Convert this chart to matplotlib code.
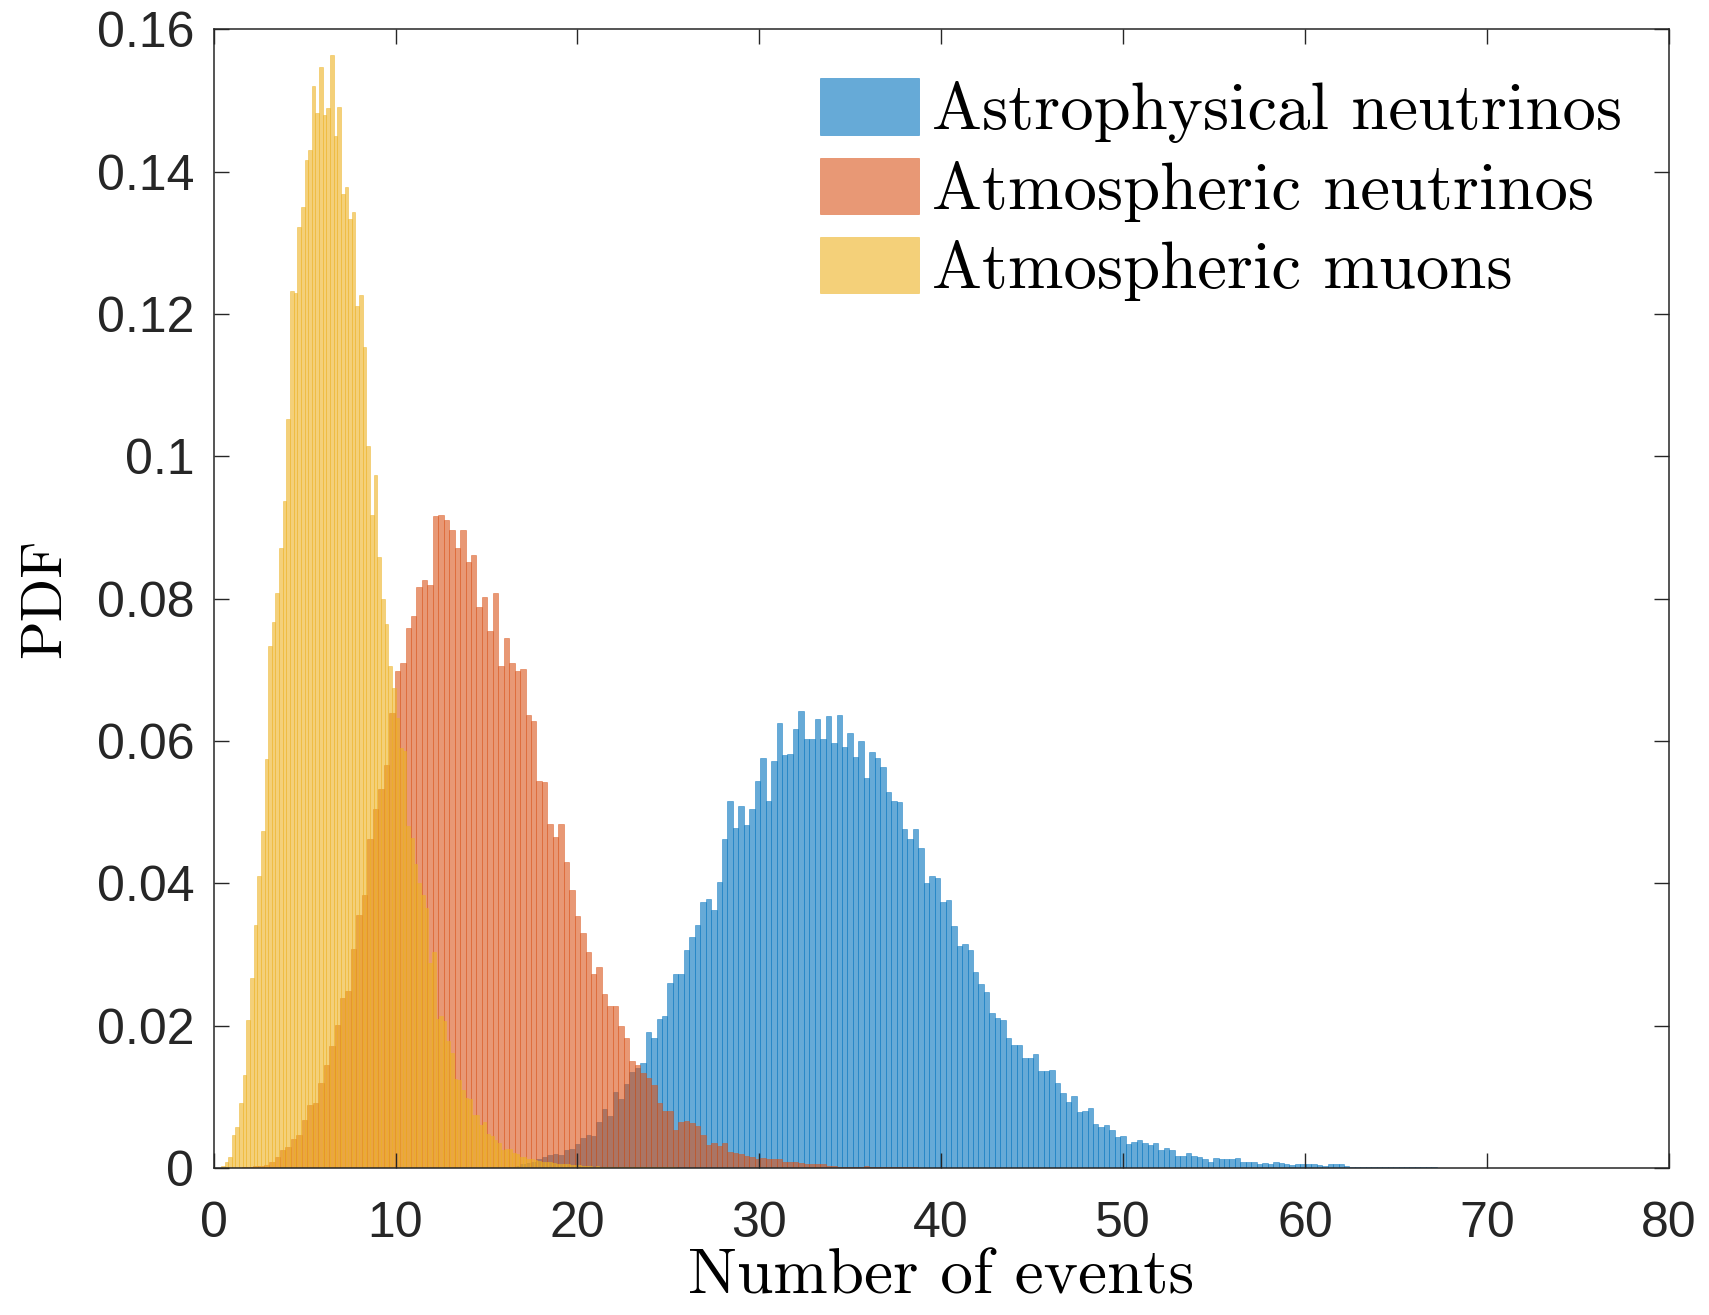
import numpy as np
import matplotlib
matplotlib.use('Agg')
import matplotlib.pyplot as plt
from matplotlib.ticker import FuncFormatter

# ---- data (PDF heights per bin) ----
LABELS = ['Astrophysical neutrinos', 'Atmospheric neutrinos', 'Atmospheric muons']

# astrophysical neutrinos: bins of 0.3 starting at 16.25
ASTRO_START, ASTRO_W = 16.25, 0.3
ASTRO = [
    0.0002, 0.0003, 0.0005, 0.0007, 0.0009, 0.0012, 0.0015, 0.0018, 0.0020, 0.0018,
    0.0025, 0.0027, 0.0034, 0.0042, 0.0047, 0.0045, 0.0065, 0.0083, 0.0073, 0.0107,
    0.0097, 0.0118, 0.0135, 0.0141, 0.0147, 0.0191, 0.0182, 0.0210, 0.0214, 0.0260,
    0.0272, 0.0272, 0.0307, 0.0325, 0.0342, 0.0374, 0.0378, 0.0362, 0.0402, 0.0463,
    0.0516, 0.0478, 0.0509, 0.0482, 0.0504, 0.0544, 0.0576, 0.0516, 0.0572, 0.0625,
    0.0581, 0.0582, 0.0617, 0.0642, 0.0603, 0.0603, 0.0631, 0.0603, 0.0635, 0.0597,
    0.0637, 0.0592, 0.0611, 0.0578, 0.0600, 0.0548, 0.0585, 0.0576, 0.0564, 0.0529,
    0.0516, 0.0515, 0.0477, 0.0463, 0.0477, 0.0449, 0.0400, 0.0411, 0.0408, 0.0374,
    0.0376, 0.0340, 0.0312, 0.0315, 0.0307, 0.0275, 0.0259, 0.0247, 0.0218, 0.0211,
    0.0208, 0.0182, 0.0173, 0.0173, 0.0154, 0.0154, 0.0160, 0.0136, 0.0136, 0.0137,
    0.0119, 0.0105, 0.0093, 0.0101, 0.0079, 0.0080, 0.0084, 0.0062, 0.0058, 0.0060,
    0.0054, 0.0043, 0.0045, 0.0034, 0.0037, 0.0039, 0.0035, 0.0032, 0.0035, 0.0025,
    0.0028, 0.0025, 0.0017, 0.0017, 0.0021, 0.0017, 0.0015, 0.0012, 0.0008, 0.0014,
    0.0013, 0.0013, 0.0013, 0.0014, 0.0008, 0.0008, 0.0009, 0.0006, 0.0007, 0.0006,
    0.0008, 0.0007, 0.0006, 0.0004, 0.0006, 0.0006, 0.0006, 0.0006, 0.0004, 0.0003,
    0.0006, 0.0006, 0.0006, 0.0003, 0.0002, 0.0002, 0.0001, 0.0002, 0.0001, 0.0001,
    0.0001, 0.0001, 0.0001, 0.0001, 0.0001, 0.0001, 0.0001, 0.0001, 0.0001, 0.0001,
]

# atmospheric neutrinos: bins of 0.3 starting at 1.55
ATMNU_START, ATMNU_W = 1.55, 0.3
ATMNU = [
    0.0001, 0.0002, 0.0003, 0.0003, 0.0004, 0.0009, 0.0016, 0.0025, 0.0029, 0.0041,
    0.0047, 0.0068, 0.0089, 0.0091, 0.0120, 0.0145, 0.0172, 0.0201, 0.0239, 0.0249,
    0.0308, 0.0356, 0.0383, 0.0462, 0.0505, 0.0532, 0.0566, 0.0640, 0.0699, 0.0710,
    0.0759, 0.0776, 0.0817, 0.0827, 0.0819, 0.0916, 0.0918, 0.0911, 0.0896, 0.0871,
    0.0896, 0.0851, 0.0862, 0.0788, 0.0803, 0.0755, 0.0808, 0.0706, 0.0745, 0.0710,
    0.0699, 0.0701, 0.0636, 0.0628, 0.0544, 0.0543, 0.0484, 0.0465, 0.0483, 0.0430,
    0.0391, 0.0354, 0.0330, 0.0303, 0.0273, 0.0282, 0.0244, 0.0227, 0.0228, 0.0200,
    0.0183, 0.0150, 0.0145, 0.0133, 0.0126, 0.0117, 0.0091, 0.0080, 0.0080, 0.0054,
    0.0064, 0.0066, 0.0063, 0.0059, 0.0046, 0.0032, 0.0035, 0.0031, 0.0035, 0.0023,
    0.0021, 0.0020, 0.0017, 0.0016, 0.0013, 0.0014, 0.0013, 0.0013, 0.0012, 0.0009,
    0.0009, 0.0009, 0.0007, 0.0006, 0.0006, 0.0006, 0.0006, 0.0003, 0.0003, 0.0002,
    0.0002, 0.0002, 0.0002, 0.0001, 0.0003, 0.0001, 0.0001, 0.0001, 0.0001, 0.0001,
    0.0001, 0.0001, 0.0001, 0.0001,
]

# atmospheric muons: bins of 0.2 starting at 0.4
MUON_START, MUON_W = 0.4, 0.2
MUON = [
    0.0003, 0.0008, 0.0016, 0.0047, 0.0057, 0.0091, 0.0130, 0.0208, 0.0267, 0.0342,
    0.0411, 0.0474, 0.0575, 0.0733, 0.0767, 0.0808, 0.0871, 0.0938, 0.1053, 0.1232,
    0.1230, 0.1322, 0.1351, 0.1416, 0.1430, 0.1520, 0.1482, 0.1547, 0.1480, 0.1489,
    0.1564, 0.1450, 0.1491, 0.1369, 0.1378, 0.1333, 0.1344, 0.1212, 0.1227, 0.1154,
    0.1015, 0.0917, 0.0974, 0.0858, 0.0800, 0.0765, 0.0705, 0.0674, 0.0632, 0.0590,
    0.0586, 0.0480, 0.0464, 0.0427, 0.0400, 0.0383, 0.0366, 0.0288, 0.0303, 0.0210,
    0.0214, 0.0207, 0.0178, 0.0162, 0.0125, 0.0124, 0.0110, 0.0099, 0.0097, 0.0075,
    0.0074, 0.0061, 0.0064, 0.0048, 0.0045, 0.0040, 0.0035, 0.0025, 0.0027, 0.0026,
    0.0021, 0.0019, 0.0016, 0.0015, 0.0013, 0.0012, 0.0011, 0.0010, 0.0009, 0.0008,
    0.0008, 0.0007, 0.0006, 0.0006, 0.0005, 0.0005, 0.0004, 0.0004, 0.0004, 0.0003,
    0.0003, 0.0003, 0.0002, 0.0003, 0.0002, 0.0002, 0.0002, 0.0002, 0.0001, 0.0002,
    0.0001, 0.0001, 0.0001, 0.0002, 0.0001, 0.0001, 0.0001, 0.0001, 0.0001, 0.0001,
    0.0001, 0.0001, 0.0001, 0.0001, 0.0001,
]

XTICKS = [0, 10, 20, 30, 40, 50, 60, 70, 80]
YTICKS = [0, 0.02, 0.04, 0.06, 0.08, 0.1, 0.12, 0.14, 0.16]

# MATLAB default colours
COLORS = ['#0072BD', '#D95319', '#EDB120']

fig = plt.figure(figsize=(17.09, 13.15), dpi=100)
ax = fig.add_axes([0.125, 0.1118, 0.8514, 0.8658])

series = [(ASTRO_START, ASTRO_W, ASTRO),
          (ATMNU_START, ATMNU_W, ATMNU),
          (MUON_START, MUON_W, MUON)]
for (start, w, h), c, lab in zip(series, COLORS, LABELS):
    left = start + w*np.arange(len(h))
    ax.bar(left, h, width=w, align='edge', color=c, edgecolor=c,
           alpha=0.6, linewidth=0.5, label=lab)

ax.set_xlim(0, 80)
ax.set_ylim(0, 0.16)
ax.set_xticks(XTICKS)
ax.set_yticks(YTICKS)
ax.yaxis.set_major_formatter(FuncFormatter(lambda v, p: '%g' % v))

tickfont = ['Liberation Sans', 'DejaVu Sans']
for t in ax.get_xticklabels() + ax.get_yticklabels():
    t.set_family(tickfont)
ax.tick_params(axis='both', which='major', direction='in', length=10.5,
               width=1.0, color='#262626', labelsize=36, labelcolor='#262626',
               top=True, right=True)
ax.tick_params(axis='x', pad=24)
ax.tick_params(axis='y', pad=14)
for s in ax.spines.values():
    s.set_color('#262626')
    s.set_linewidth(1.1)

ax.set_xlabel('Number of events', family='cmr10', fontsize=47, labelpad=1)
ax.set_ylabel('PDF', family='cmr10', fontsize=41, labelpad=18)

ax.legend(loc='upper left', bbox_to_anchor=(0.4166, 0.957), frameon=False,
          prop=dict(family='cmr10', size=48), handlelength=1.49,
          handleheight=0.92, handletextpad=0.2, labelspacing=0.22,
          borderaxespad=0, borderpad=0)

fig.savefig('out.png', dpi=100)
